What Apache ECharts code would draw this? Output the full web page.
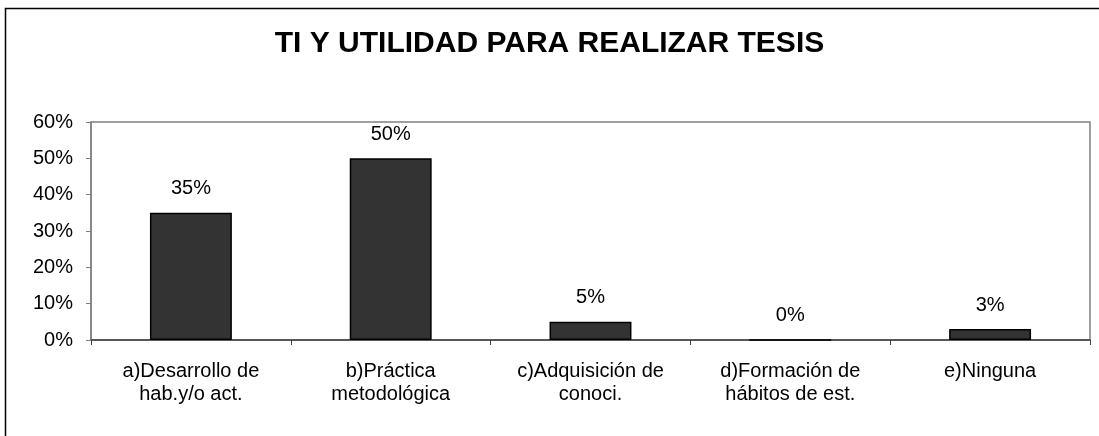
<!DOCTYPE html>
<html>
<head>
<meta charset="utf-8">
<script src="https://cdn.jsdelivr.net/npm/echarts@6/dist/echarts.min.js"></script>
<style>
  html, body { margin: 0; padding: 0; background: #fff; }
  #chart { width: 1099px; height: 436px; }
</style>
</head>
<body>
<div id="chart"></div>
<script>
const categories = [
  'a)Desarrollo de\nhab.y/o act.',
  'b)Práctica\nmetodológica',
  'c)Adquisición de\nconoci.',
  'd)Formación de\nhábitos de est.',
  'e)Ninguna',
]
const values = [35, 50, 5, 0, 3]
const yTicks = [0, 10, 20, 30, 40, 50, 60]

const chart = echarts.init(document.getElementById('chart'))

chart.setOption({
  animation: false,
  textStyle: { fontFamily: 'Liberation Sans, Arial, sans-serif' },
  title: {
    text: 'TI Y UTILIDAD PARA REALIZAR TESIS',
    left: 'center',
    top: 24,
    textStyle: { fontSize: 30, fontWeight: 'bold', color: '#000', fontFamily: 'Liberation Sans, Arial, sans-serif' },
  },
  // marco exterior del gráfico
  graphic: [
    {
      type: 'rect',
      left: 3,
      top: 6,
      shape: { width: 1200, height: 500 },
      style: { fill: 'none', stroke: '#000', lineWidth: 1.5 },
      silent: true,
    },
  ],
  grid: {
    left: 91,
    top: 122,
    right: 9,
    bottom: 96,
    show: true,
    borderColor: '#808080',
    borderWidth: 1.5,
  },
  xAxis: {
    type: 'category',
    data: categories,
    axisLine: { lineStyle: { color: '#404040', width: 1.5 } },
    axisTick: { show: true, length: 5, lineStyle: { color: '#404040' } },
    axisLabel: { color: '#000', fontSize: 20, lineHeight: 23, margin: 20 },
  },
  yAxis: {
    type: 'value',
    min: yTicks[0],
    max: yTicks[yTicks.length - 1],
    interval: 10,
    splitLine: { show: false },
    axisLine: { show: true, lineStyle: { color: '#808080', width: 1.5 } },
    axisTick: { show: true, length: 5, lineStyle: { color: '#808080' } },
    axisLabel: { color: '#000', fontSize: 20, margin: 18, formatter: '{value}%' },
  },
  series: [
    {
      type: 'bar',
      data: values,
      barWidth: '41%',
      itemStyle: { color: '#333333', borderColor: '#000', borderWidth: 1.5 },
      label: {
        show: true,
        position: 'top',
        distance: 14,
        color: '#000',
        fontSize: 20,
        formatter: '{c}%',
      },
    },
  ],
})
</script>
</body>
</html>
